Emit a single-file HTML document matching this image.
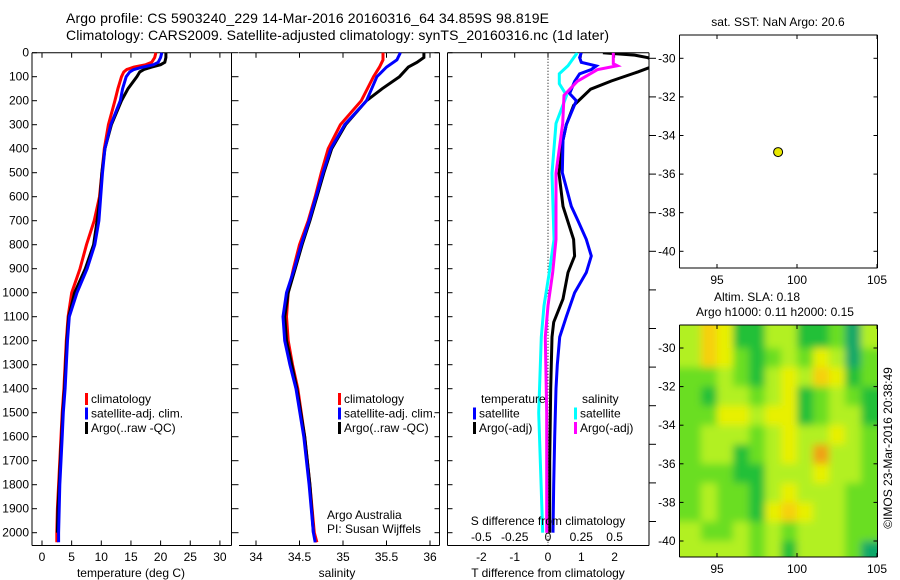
<!DOCTYPE html>
<html><head><meta charset="utf-8"><style>
body{margin:0;background:#fff;width:900px;height:580px;overflow:hidden}
svg{display:block;font-family:"Liberation Sans",sans-serif}
text{font-size:12px;fill:#000}
</style></head><body>
<svg id="c" width="900" height="580" viewBox="0 0 900 580">
<text x="66" y="23" style="font-size:14px" textLength="483">Argo profile: CS 5903240_229 14-Mar-2016 20160316_64 34.859S 98.819E</text>
<text x="66" y="40" style="font-size:14px" textLength="543">Climatology: CARS2009. Satellite-adjusted climatology: synTS_20160316.nc (1d later)</text>
<g id="g"></g>
</svg>
<script>
const depthT = [0,20,40,50,60,70,80,100,150,200,300,400,500,600,700,800,900,1000,1100,1200,1300,1400,1500,1600,1700,1800,1900,2000,2040];
const tempClim = [19.2,19.0,18.5,17.5,15.5,14.3,13.8,13.4,12.8,12.3,11.2,10.5,10.1,9.7,8.8,7.5,6.4,5.0,4.4,4.1,3.9,3.7,3.4,3.2,3.0,2.8,2.6,2.5,2.5];
const tempSat = [20.2,20.0,19.6,18.8,17.0,15.5,14.8,14.2,13.6,13.2,11.6,10.6,10.2,9.9,9.6,8.9,7.6,5.9,4.6,4.3,4.1,3.9,3.6,3.4,3.2,3.0,2.9,2.8,2.8];
const depthArgo = [0,20,40,50,60,70,80,100,150,200,300,400,500,600,700,800,900,1000,1100,1200,1300,1400,1500,1600,1700,1800,1900,2000];
const tempArgo = [20.9,20.9,20.7,20.0,18.5,17.2,16.5,16.0,14.5,13.4,11.7,10.6,10.1,9.8,9.3,8.7,7.3,5.5,4.5,4.2,4.0,3.8,3.5,3.3,3.1,2.9,2.7,2.6];
const depthS = [0,30,60,100,200,300,400,500,600,700,800,900,1000,1100,1200,1300,1400,1600,1800,2000,2040];
const salClim = [35.46,35.46,35.42,35.35,35.21,34.97,34.83,34.75,34.68,34.6,34.5,34.43,34.37,34.35,34.37,34.42,34.48,34.56,34.62,34.67,34.7];
const salSat = [35.66,35.62,35.5,35.39,35.27,35.02,34.86,34.77,34.69,34.61,34.52,34.44,34.35,34.31,34.33,34.39,34.46,34.55,34.61,34.66,34.68];
const depthSA = [0,20,40,60,100,150,200,300,400,500,600,700,800,900,1000,1100,1200,1300,1400,1600,1800,2000];
const salArgo = [35.93,35.93,35.85,35.75,35.65,35.45,35.27,35.03,34.87,34.78,34.7,34.62,34.53,34.45,34.37,34.33,34.35,34.41,34.47,34.56,34.62,34.66];
const depthDT = [0,20,40,55,70,88,120,170,200,250,300,364,500,640,700,778,847,916,1000,1100,1185,1300,1400,1600,1800,2000];
const dTsat = [1.0,0.95,1.0,1.45,1.3,0.95,0.8,0.65,0.85,0.7,0.55,0.45,0.43,0.7,0.9,1.15,1.3,1.15,0.8,0.55,0.35,0.28,0.24,0.2,0.17,0.15];
const depthDTa = [0,10,21,40,54,80,118,152,220,300,364,502,640,778,847,916,1026,1123,1185,1400,1700,2000];
const dTargo = [1.65,2.6,3.0,3.3,3.2,2.7,1.9,1.28,0.77,0.55,0.45,0.33,0.45,0.77,0.8,0.6,0.45,0.17,0.12,0.08,0.05,0.05];
const depthDS = [0,54,88,129,178,295,502,778,916,1054,1185,1500,2000];
const dSsat = [0.22,0.15,0.085,0.085,0.14,0.06,0.03,0.045,0.01,-0.03,-0.05,-0.07,-0.04];
const depthDSa = [0,46,54,71,119,178,295,502,778,916,1054,1185,1500,2000];
const dSargo = [0.49,0.49,0.52,0.37,0.22,0.12,0.11,0.06,0.06,0.035,0,-0.02,-0.01,-0.01];
const depthTicks = [0,100,200,300,400,500,600,700,800,900,1000,1100,1200,1300,1400,1500,1600,1700,1800,1900,2000];
const tTicks = [0,5,10,15,20,25,30];
const sTicks = [34,34.5,35,35.5,36];
const sTickLabels = ["34","34.5","35","35.5","36"];
const dTTicks = [-2,-1,0,1,2];
const dSTicks = [-0.5,-0.25,0,0.25,0.5];
const dSTickLabels = ["-0.5","-0.25","0","0.25","0.5"];
const lonTicks = [95,100,105];
const latTicks = [-30,-32,-34,-36,-38,-40];
const floatLon = [98.819];
const floatLat = [-34.859];
const slaLats = [-29.5,-30.5,-31.5,-32.5,-33.5,-34.5,-35.5,-36.5,-37.5,-38.5,-39.5,-40.5];
const slaLons = [93.5,94.5,95.5,96.5,97.5,98.5,99.5,100.5,101.5,102.5,103.5,104.5];
const slaVals = [
[3,5,4,1,1,3,3,1,1,2,0,3],
[3,5,4,2,1,2,3,2,4,3,0,2],
[2,2,3,2,1,3,4,3,5,4,1,2],
[2,1,3,3,2,3,4,1,2,3,2,1],
[2,2,4,4,3,4,4,1,2,3,3,1],
[2,3,3,3,2,3,4,3,3,4,3,2],
[2,3,3,1,2,3,4,3,6,3,3,2],
[2,2,2,1,1,3,3,3,4,3,3,2],
[2,3,2,2,1,3,4,3,3,3,2,2],
[2,3,2,2,1,4,5,4,3,3,2,2],
[3,2,2,3,2,3,2,3,3,3,2,2],
[3,3,3,3,2,3,1,3,3,3,2,0]];
const slaColors = ["#10a868","#20c038","#6ade20","#b2f020","#e8f000","#f6d010","#f0a018"];

const NS="http://www.w3.org/2000/svg";
const G=document.getElementById('g');
function el(tag,attrs,parent){const e=document.createElementNS(NS,tag);for(const k in attrs)e.setAttribute(k,attrs[k]);(parent||G).appendChild(e);return e;}
function txt(x,y,s,anchor,parent){const t=el('text',{x:x,y:y,'text-anchor':anchor||'start'},parent);t.textContent=s;return t;}
const Y0=52.7, YS=0.24;
const yD=d=>Y0+d*YS;
const xT=v=>42+v*5.93;
const xS=v=>256+(v-34)*87;
const xDT=v=>548+v*33.3;
const xDS=v=>548+v*133.2;
const defs=el('defs',{});
const cp3=el('clipPath',{id:'clip3'},defs);el('rect',{x:447.5,y:52.7,width:201.5,height:493},cp3);
function line(xs,ds,xf,color,name,w,clip){
  const p=xs.map((v,i)=>xf(v).toFixed(1)+','+yD(ds[i]).toFixed(1)).join(' ');
  const l=el('polyline',{points:p,fill:'none',stroke:color,'stroke-width':w||3,'stroke-linejoin':'miter'});
  if(clip) l.setAttribute('clip-path','url(#'+clip+')');
  
  
}
function box(x1,x2,y1,y2,name,noLeft){
  const g=el('g',{});
  
  
  el('line',{x1:x1,y1:y1,x2:x2,y2:y1,stroke:'#000'},g);
  el('line',{x1:x1,y1:y2,x2:x2,y2:y2,stroke:'#000'},g);
  el('line',{x1:x2,y1:y1,x2:x2,y2:y2,stroke:'#000'},g);
  if(!noLeft) el('line',{x1:x1,y1:y1,x2:x1,y2:y2,stroke:'#000'},g);
  return g;
}
const L=32,R1=231.5,B=545.5;
const p1=box(L,R1,Y0,B,'temperature-panel');
depthTicks.forEach(d=>{const y=yD(d);el('line',{x1:L,y1:y,x2:L+5,y2:y,stroke:'#000'},p1);el('line',{x1:R1,y1:y,x2:R1+7,y2:y,stroke:'#000'},p1);
  const t=txt(L-3,y+4,String(d),'end');});
tTicks.forEach(v=>{const x=xT(v);el('line',{x1:x,y1:B,x2:x,y2:B-5,stroke:'#000'},p1);el('line',{x1:x,y1:Y0,x2:x,y2:Y0+5,stroke:'#000'},p1);
  const t=txt(x,561,String(v),'middle');});
line(tempClim,depthT,xT,'#f00','temp-climatology-line');
line(tempArgo,depthArgo,xT,'#000','temp-argo-line');
line(tempSat,depthT,xT,'#00f','temp-satellite-line');
const L2=239,R2=439.5;
const p2=box(L2,R2,Y0,B,'salinity-panel',true);
depthTicks.forEach(d=>{const y=yD(d);el('line',{x1:R2,y1:y,x2:R2-5,y2:y,stroke:'#000'},p2);});
sTicks.forEach((v,i)=>{const x=xS(v);el('line',{x1:x,y1:B,x2:x,y2:B-5,stroke:'#000'},p2);el('line',{x1:x,y1:Y0,x2:x,y2:Y0+5,stroke:'#000'},p2);
  const t=txt(x,561,sTickLabels[i],'middle');});
line(salClim,depthS,xS,'#f00','sal-climatology-line');
line(salArgo,depthSA,xS,'#000','sal-argo-line');
line(salSat,depthS,xS,'#00f','sal-satellite-line');
const L3=447.5,R3=649;
const p3=box(L3,R3,Y0,B,'difference-panel');
el('line',{x1:548,y1:Y0,x2:548,y2:B,stroke:'#000','stroke-dasharray':'1,2'},p3);
depthTicks.forEach(d=>{const y=yD(d);el('line',{x1:L3,y1:y,x2:L3+5,y2:y,stroke:'#000'},p3);});
for(let k=0;k<13;k++){const y=58.3+k*38.6;el('line',{x1:R3,y1:y,x2:R3+7,y2:y,stroke:'#000'},p3);}
dTTicks.forEach(v=>{const x=xDT(v);el('line',{x1:x,y1:Y0,x2:x,y2:Y0+5,stroke:'#000'},p3);
  const t=txt(x,561,String(v),'middle');});
dSTicks.forEach((v,i)=>{const t=txt(xDS(v),541,dSTickLabels[i],'middle');});
line(dTargo,depthDTa,xDT,'#000','t-diff-argo-line',3,'clip3');
line(dTsat,depthDT,xDT,'#00f','t-diff-satellite-line',3,'clip3');
line(dSsat,depthDS,xDS,'#0ff','s-diff-satellite-line',3,'clip3');
line(dSargo,depthDSa,xDS,'#f0f','s-diff-argo-line',3,'clip3');
function leg(x,y,c,s,name){const g=el('g',{});
  el('rect',{x:x,y:y-10,width:3,height:12,fill:c},g);txt(x+6,y,s,'start',g);}
[[85,'climatology','#f00'],[85,'satellite-adj. clim.','#00f'],[85,'Argo(..raw -QC)','#000']].forEach((a,i)=>leg(a[0],403+i*14.5,a[2],a[1],'temp-legend-entry'));
[[338,'climatology','#f00'],[338,'satellite-adj. clim.','#00f'],[338,'Argo(..raw -QC)','#000']].forEach((a,i)=>leg(a[0],403+i*14.5,a[2],a[1],'sal-legend-entry'));
txt(481,403,'temperature');txt(582,403,'salinity');
leg(473,417.5,'#00f','satellite','diff-legend-temp-satellite');
leg(473,432,'#000','Argo(-adj)','diff-legend-temp-argo');
leg(574,417.5,'#0ff','satellite','diff-legend-sal-satellite');
leg(574,432,'#f0f','Argo(-adj)','diff-legend-sal-argo');
txt(327,519,'Argo Australia');txt(327,533,'PI: Susan Wijffels');
txt(548,525,'S difference from climatology','middle');
txt(131,577,'temperature (deg C)','middle');
txt(337,577,'salinity','middle');
txt(548,577,'T difference from climatology','middle');
const ML=679.5,MR=877.5;
const xLon=v=>717+(v-95)*16;
function mapAxes(top,bot,yLat,name){
  const g=box(ML,MR,top,bot,name);
  lonTicks.forEach(v=>{const x=xLon(v);el('line',{x1:x,y1:bot,x2:x,y2:bot-4,stroke:'#000'},g);el('line',{x1:x,y1:top,x2:x,y2:top+4,stroke:'#000'},g);
    const t=txt(x,bot+16,String(v),'middle');});
  latTicks.forEach(v=>{const y=yLat(v);el('line',{x1:ML,y1:y,x2:ML+4,y2:y,stroke:'#000'},g);el('line',{x1:MR,y1:y,x2:MR-4,y2:y,stroke:'#000'},g);
    const t=txt(ML-4,y+4,String(v),'end');});
  return g;
}
const yLat1=v=>58.3+(-30-v)*19.3;
const yLat2=v=>348+(-30-v)*19.3;
const cp=el('clipPath',{id:'clipm'},defs);el('rect',{x:ML,y:325,width:MR-ML,height:232},cp);
const fl=el('filter',{id:'bl',x:'-10%',y:'-10%',width:'120%',height:'120%'},defs);el('feGaussianBlur',{stdDeviation:'4'},fl);
const hm=el('g',{'clip-path':'url(#clipm)'});


const hg=el('g',{filter:'url(#bl)'},hm);
slaVals.forEach((row,r)=>row.forEach((v,c)=>{
  const x=xLon(slaLons[c]-0.5), y=yLat2(slaLats[r]+0.5);
  const cell=el('rect',{x:x-(c==0?20:0),y:y-(r==0?20:0),width:16+(c==0||c==11?20:0)+0.6,height:19.3+(r==0||r==11?20:0)+0.6,fill:slaColors[v]},hg);
  
  
}));
mapAxes(35,268,yLat1,'sst-map');
mapAxes(325,557,yLat2,'sla-map');
const dot=el('circle',{cx:xLon(floatLon[0]),cy:yLat1(floatLat[0]),r:4.5,fill:'#e8e800',stroke:'#000','stroke-width':1});


txt(778,26,'sat. SST: NaN Argo: 20.6','middle');
txt(757,301,'Altim. SLA: 0.18','middle');
txt(775,316,'Argo h1000: 0.11 h2000: 0.15','middle');
const cr=txt(0,0,'©IMOS 23-Mar-2016 20:38:49','middle');cr.setAttribute('transform','translate(892,448) rotate(-90)');


</script>
</body></html>
